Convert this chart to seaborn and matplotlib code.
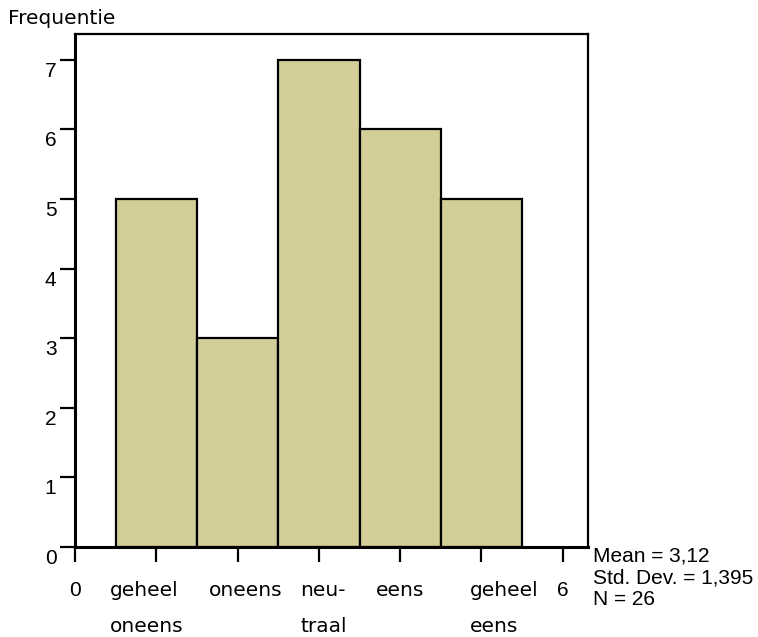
import numpy as np
import pandas as pd
import seaborn as sns
import matplotlib
matplotlib.use("Agg")
import matplotlib.pyplot as plt
from matplotlib.transforms import ScaledTranslation

# Data: answer categories (1..5) and their counts
categories = [1, 2, 3, 4, 5]
counts = [5, 3, 7, 6, 5]
x_ticks = [0, 1, 2, 3, 4, 5, 6]
x_labels = ["0", "geheel\noneens", "oneens", "neu-\ntraal", "eens", "geheel\neens", "6"]
y_ticks = [0, 1, 2, 3, 4, 5, 6, 7]
stats_lines = ["Mean = 3,12", "Std. Dev. = 1,395", "N = 26"]

df = pd.DataFrame({"score": categories, "count": counts})

sns.set_style("white")
plt.rcParams.update({"text.color": "black", "xtick.color": "black",
                     "ytick.color": "black", "axes.labelcolor": "black"})
fig = plt.figure(figsize=(7.58, 6.37), dpi=100)
ax = fig.add_axes([0.0989, 0.1413, 0.6768, 0.8053])

sns.histplot(data=df, x="score", weights="count", binwidth=1, binrange=(0.5, 5.5),
             color="#D3CE98", alpha=1, edgecolor="black", linewidth=1.6, ax=ax)

ax.set_xlim(0, 6.31)
ax.set_ylim(0, 7.37)
ax.set_xlabel("")
ax.set_ylabel("")

for side in ["left", "bottom"]:
    ax.spines[side].set_linewidth(2.2)
for side in ["top", "right"]:
    ax.spines[side].set_linewidth(1.6)
for s in ax.spines.values():
    s.set_color("black")
    s.set_visible(True)

ax.set_yticks(y_ticks)
ax.set_yticklabels([str(t) for t in y_ticks], fontsize=15, family="Liberation Sans")
ax.tick_params(axis="y", direction="out", length=10.8, width=1.6, pad=2.5, left=True,
               colors="black")
for lab in ax.get_yticklabels():
    lab.set_verticalalignment("top")
    lab.set_transform(lab.get_transform() + ScaledTranslation(0, -2 / 100, fig.dpi_scale_trans))

ax.set_xticks(x_ticks)
ax.set_xticklabels(x_labels, fontsize=14.5, linespacing=2.1, multialignment="left")
ax.tick_params(axis="x", direction="out", length=10.8, width=1.6, pad=14, bottom=True,
               colors="black")
# SPSS places the wrapped labels slightly off-centre
shifts = [0, -10, 8, 5, 0, 23, 0]
for lab, txt, dx in zip(ax.get_xticklabels(), x_labels, shifts):
    if txt.isdigit():
        lab.set_family("Liberation Sans")
        lab.set_fontsize(15)
    else:
        lab.set_family("DejaVu Sans")
    lab.set_transform(lab.get_transform() + ScaledTranslation(dx / 100, 0, fig.dpi_scale_trans))

fig.text(8 / 758, 1 - 18 / 637, "Frequentie", fontsize=14.5, family="DejaVu Sans",
         ha="left", va="center")
fig.text(593 / 758, 1 - 547 / 637, "\n".join(stats_lines), fontsize=15,
         family="Liberation Sans", ha="left", va="top", linespacing=1.18)

fig.savefig("out.png", dpi=100)
